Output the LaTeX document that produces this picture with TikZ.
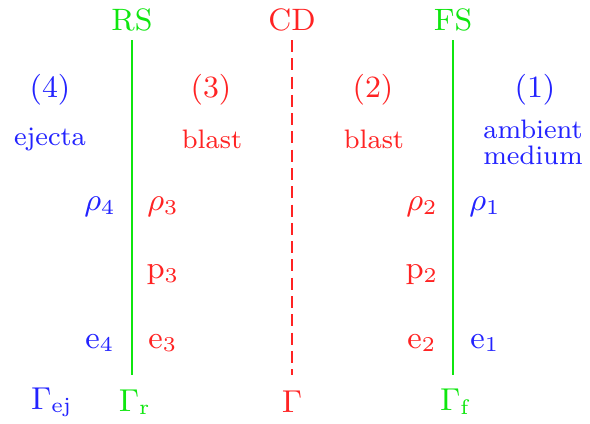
\documentclass[tikz,border=0pt]{standalone}
\definecolor{shgreen}{RGB}{15,230,15}
\definecolor{shred}{RGB}{255,35,35}
\definecolor{shblue}{RGB}{35,35,255}
\begin{document}
\begin{tikzpicture}[x=0.01cm, y=-0.01cm, inner sep=1pt,
   big/.style={font=\fontsize{8.8}{10}\selectfont},
   word/.style={font=\fontsize{7.6}{7.4}\selectfont, align=center},
   shock/.style={draw=shgreen, line width=0.8pt},
   contact/.style={draw=shred, line width=0.8pt, dash pattern=on 3.4pt off 1.8pt}]
   \useasboundingbox (0,0) rectangle (590,424);
   % fronts
   \node[big, shgreen] (RS) at (132,20) {RS};
   \node[big, shred] (CD) at (292,20) {CD};
   \node[big, shgreen] (FS) at (453,20) {FS};
   \coordinate (rs1) at (132,40);  \coordinate (rs2) at (132,375);
   \coordinate (cd1) at (292,40);  \coordinate (cd2) at (292,375);
   \coordinate (fs1) at (453,40);  \coordinate (fs2) at (453,375);
   \draw[shock] (rs1) -- (rs2);
   \draw[contact] (cd1) -- (cd2);
   \draw[shock] (fs1) -- (fs2);
   % regions
   \node[big, shblue] (r4) at (50,90) {(4)};
   \node[big, shred] (r3) at (211,90) {(3)};
   \node[big, shred] (r2) at (373,90) {(2)};
   \node[big, shblue] (r1) at (535,90) {(1)};
   \node[word, shblue] (ej) at (50,139) {ejecta};
   \node[word, shred] (bl3) at (212,139) {blast};
   \node[word, shred] (bl2) at (374,139) {blast};
   \node[word, shblue] (am) at (533,142) {ambient\\medium};
   % quantities
   \node[big, shblue] (rho4) at (100,207) {$\rho_4$};
   \node[big, shred] (rho3) at (163,207) {$\rho_3$};
   \node[big, shred] (rho2) at (422,207) {$\rho_2$};
   \node[big, shblue] (rho1) at (485,207) {$\rho_1$};
   \node[big, shred] (p3) at (163,275) {$\mathrm{p}_3$};
   \node[big, shred] (p2) at (422,275) {$\mathrm{p}_2$};
   \node[big, shblue] (e4) at (100,343) {$\mathrm{e}_4$};
   \node[big, shred] (e3) at (163,343) {$\mathrm{e}_3$};
   \node[big, shred] (e2) at (422,343) {$\mathrm{e}_2$};
   \node[big, shblue] (e1) at (485,343) {$\mathrm{e}_1$};
   % Lorentz factors
   \node[big, shblue] (Gej) at (52,402) {$\Gamma_{\mathrm{ej}}$};
   \node[big, shgreen] (Gr) at (135,402) {$\Gamma_{\mathrm{r}}$};
   \node[big, shred] (G) at (292,402) {$\Gamma$};
   \node[big, shgreen] (Gf) at (456,402) {$\Gamma_{\mathrm{f}}$};
\end{tikzpicture}
\end{document}
